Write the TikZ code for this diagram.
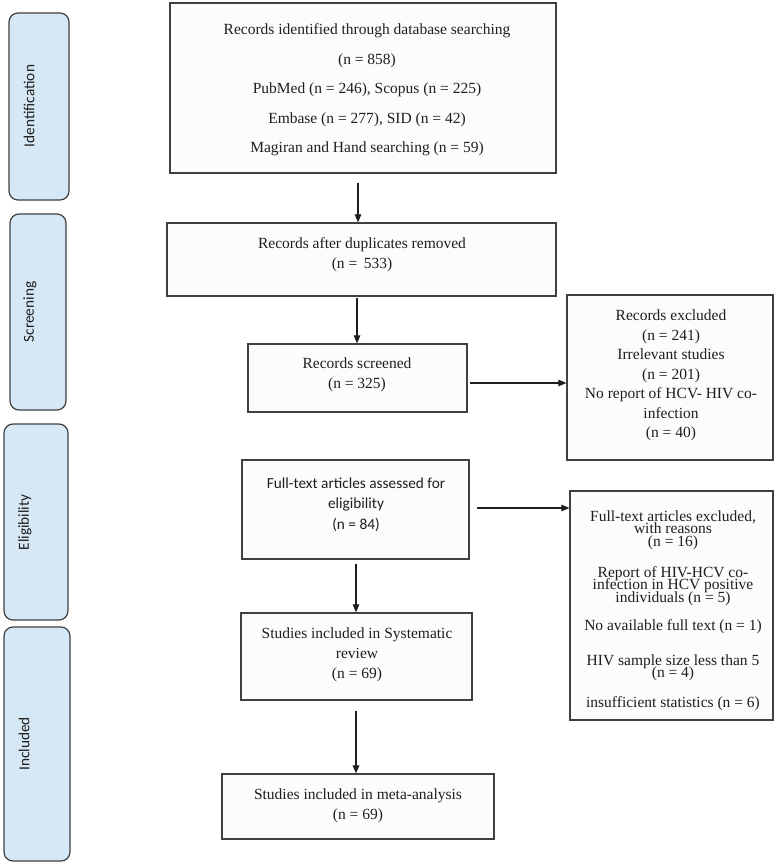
\documentclass[tikz,border=0pt]{standalone}
\usepackage{fontspec}
\setmainfont{Liberation Serif}
\newfontfamily\calib{Carlito}
\usetikzlibrary{arrows.meta}
\definecolor{edge}{HTML}{404040}
\definecolor{sidefill}{HTML}{D6E8F5}
\definecolor{boxfill}{HTML}{FDFCFA}
\definecolor{ink}{HTML}{1E1E1E}
\newcommand\tightlines{\lineskiplimit=-50pt\relax\lineskip=0pt\relax}
\begin{document}
\begin{tikzpicture}[x=1pt,y=-1pt,
  box/.style={draw=edge, line width=1.2pt, fill=boxfill, inner sep=0pt},
  phase/.style={draw=edge, line width=1.2pt, fill=sidefill, rounded corners=9pt, inner sep=0pt},
  txt/.style={align=center, inner sep=0pt, text=ink, font=\fontsize{15.5}{20}\selectfont},
  phasetxt/.style={inner sep=0pt, text=ink, rotate=90, font=\calib\fontsize{15.3}{18}\selectfont},
  arr/.style={draw=ink, line width=1.1pt, -{Triangle[length=8pt,width=6.5pt]}}]
\useasboundingbox (0,0) rectangle (777,862);
\fill[white] (0,0) rectangle (777,862);

% phase boxes
\node[phase, minimum width=60pt, minimum height=187pt] (p1) at (39,106.5) {};
\node[phase, minimum width=56pt, minimum height=196pt] (p2) at (38,312) {};
\node[phase, minimum width=64pt, minimum height=196pt] (p3) at (36,522) {};
\node[phase, minimum width=66pt, minimum height=234pt] (p4) at (37,744) {};
\node[phasetxt] (l1) at (29,106) {Identification};
\node[phasetxt] (l2) at (30,312) {Screening};
\node[phasetxt] (l3) at (25,522.5) {Eligibility};
\node[phasetxt] (l4) at (24,744) {Included};

% main boxes
\node[box, minimum width=386pt, minimum height=170pt] (b1) at (363,88) {};
\node[box, minimum width=389pt, minimum height=73pt] (b2) at (361.5,259.5) {};
\node[box, minimum width=219pt, minimum height=68pt] (b3) at (357.5,378) {};
\node[box, minimum width=206pt, minimum height=165pt] (r1) at (670,377.5) {};
\node[box, minimum width=227pt, minimum height=99pt] (b4) at (355.5,509.5) {};
\node[box, minimum width=203pt, minimum height=229pt] (r2) at (671.5,605.5) {};
\node[box, minimum width=231pt, minimum height=87pt] (b5) at (356.5,656.5) {};
\node[box, minimum width=272pt, minimum height=65pt] (b6) at (358,806.5) {};

% texts
\node[txt, font=\fontsize{15.5}{29.5}\selectfont] (t1) at (367,90) {Records identified through database searching\\(n = 858)\\PubMed (n = 246), Scopus (n = 225)\\Embase (n = 277), SID (n = 42)\\Magiran and Hand searching (n = 59)};
\node[txt] (t2) at (362,255) {Records after duplicates removed\\(n =\ \,533)};
\node[txt] (t3) at (357,375) {Records screened\\(n = 325)};
\node[txt, font=\fontsize{15.5}{19.5}\selectfont] (tr1) at (671,375.5) {Records excluded\\(n = 241)\\Irrelevant studies\\(n = 201)\\No report of HCV- HIV co-\\infection\\(n = 40)};
\node[txt, font=\calib\fontsize{15.3}{20.5}\selectfont] (t4) at (356,504.5) {Full-text articles assessed for\\eligibility\\(n = 84)};
\node[txt, anchor=north, font={\fontsize{15.5}{12.5}\selectfont\tightlines}] (tr2) at (673,510.5) {Full-text articles excluded,\\with reasons\\(n = 16)\\[18.5pt]Report of HIV-HCV co-\\infection in HCV positive\\individuals (n = 5)\\[15.5pt]No available full text (n = 1)\\[22.5pt]HIV sample size less than 5\\(n = 4)\\[17pt]insufficient statistics (n = 6)};
\node[txt] (t5) at (357,654.5) {Studies included in Systematic\\review\\(n = 69)};
\node[txt] (t6) at (358,805.5) {Studies included in meta-analysis\\(n = 69)};

% arrow columns
\coordinate (c1) at (358,0);
\coordinate (c2) at (357,0);
\coordinate (c3) at (356,0);

% arrows
\draw[arr] ([yshift=-9pt]b1.south -| c1) -- (b2.north -| c1);
\draw[arr] ([yshift=-1pt]b2.south -| c2) -- (b3.north -| c2);
\draw[arr] ([xshift=2pt,yshift=-5pt]b3.east) -- ([yshift=-5pt]b3.east -| r1.west);
\draw[arr] ([xshift=7pt,yshift=1.5pt]b4.east) -- ([yshift=1.5pt]b4.east -| r2.west);
\draw[arr] ([yshift=-4pt]b4.south -| c3) -- (b5.north -| c3);
\draw[arr] ([yshift=-10pt]b5.south -| c3) -- (b6.north -| c3);
\end{tikzpicture}
\end{document}
